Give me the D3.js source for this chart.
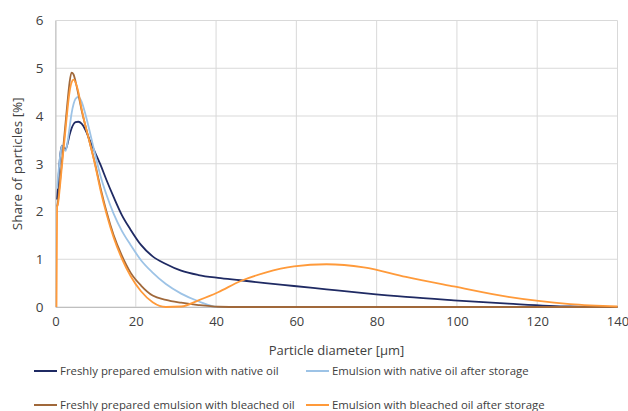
<!DOCTYPE html>
<html>
<head>
<meta charset="utf-8">
<script src="https://cdn.jsdelivr.net/npm/d3@7"></script>
<style>
  body { margin: 0; background: #fff; }
  svg text { font-family: "Open Sans", "Noto Sans", sans-serif; fill: #404040; }
</style>
</head>
<body>
<div id="chart"></div>
<script>
// particle diameter (µm)
const sizes = [0.25, 0.4, 0.6, 0.9, 1.2, 1.6, 2.0, 2.5, 3.0, 3.5, 4.0, 4.5, 5.0, 5.7, 6.5, 7.5, 8.6, 9.8, 11.2, 12.7,
  14.5, 16.5, 18.7, 21.3, 24.2, 27.5, 31.3, 35.6, 40.5, 46.0, 52.3, 59.4, 67.5, 76.8, 87.3, 99.2, 112.8, 128.2, 140];
// share of particles (%)
const nativeFresh = [null, 2.25, 2.5, 2.9, 3.2, 3.38, 3.34, 3.3, 3.42, 3.6, 3.74, 3.83, 3.87, 3.88, 3.84, 3.7, 3.48, 3.25,
  2.98, 2.66, 2.3, 1.93, 1.62, 1.3, 1.06, 0.9, 0.76, 0.67, 0.61, 0.56, 0.5, 0.44, 0.37, 0.29, 0.21, 0.14, 0.07, 0.01, 0];
const nativeStored = [null, 2.48, 2.7, 2.95, 3.2, 3.38, 3.32, 3.27, 3.45, 3.75, 4.05, 4.25, 4.36, 4.4, 4.3, 4.02, 3.65, 3.22,
  2.75, 2.35, 1.95, 1.6, 1.3, 0.98, 0.72, 0.48, 0.28, 0.12, 0, 0, 0, 0, 0, 0, 0, 0, 0, 0, 0];
const bleachedFresh = [null, 2.1, 2.2, 2.45, 2.7, 3.05, 3.4, 3.85, 4.3, 4.7, 4.91, 4.87, 4.72, 4.45, 4.12, 3.78, 3.42, 3.02,
  2.5, 2.0, 1.5, 1.08, 0.72, 0.45, 0.24, 0.15, 0.09, 0.04, 0.005, 0, 0, 0, 0, 0, 0, 0, 0, 0, 0];
const bleachedStored = [0, 2.1, 2.15, 2.35, 2.6, 2.95, 3.3, 3.72, 4.15, 4.5, 4.7, 4.76, 4.7, 4.5, 4.15, 3.78, 3.42, 3.0,
  2.45, 1.95, 1.45, 1.02, 0.65, 0.33, 0.1, 0, 0.01, 0.14, 0.31, 0.54, 0.72, 0.85, 0.895, 0.83, 0.63, 0.43, 0.21, 0.06, 0.01];

const seriesNames = ['Freshly prepared emulsion with native oil', 'Emulsion with native oil after storage',
  'Freshly prepared emulsion with bleached oil', 'Emulsion with bleached oil after storage'];
const seriesValues = [nativeFresh, nativeStored, bleachedFresh, bleachedStored];
const colors = ['#1f2a63', '#9dc3e6', '#a0683a', '#ff9a3a'];
const xTicks = [0, 20, 40, 60, 80, 100, 120, 140];
const yTicks = [0, 1, 2, 3, 4, 5, 6];

const width = 628, height = 411;
const margin = { top: 20.5, right: 10.5, bottom: 104, left: 55.5 };

const svg = d3.select('#chart').append('svg')
  .attr('width', width)
  .attr('height', height);

const x = d3.scaleLinear().domain([0, 140]).range([margin.left, width - margin.right]);
const y = d3.scaleLinear().domain([0, 6]).range([height - margin.bottom, margin.top]);

// grid -----------------------------------------------------------
svg.append('g')
  .selectAll('line')
  .data(yTicks)
  .join('line')
  .attr('x1', x(0)).attr('x2', x(140))
  .attr('y1', d => y(d)).attr('y2', d => y(d))
  .attr('stroke', '#d9d9d9');
svg.append('g')
  .selectAll('line')
  .data(xTicks)
  .join('line')
  .attr('x1', d => x(d)).attr('x2', d => x(d))
  .attr('y1', y(0)).attr('y2', y(6))
  .attr('stroke', '#d9d9d9');

// axes -----------------------------------------------------------
const xAxis = svg.append('g')
  .attr('transform', 'translate(0,' + y(0) + ')')
  .call(d3.axisBottom(x).tickValues(xTicks).tickSize(0).tickPadding(10));
xAxis.select('.domain').attr('stroke', '#bfbfbf');
xAxis.selectAll('text').attr('font-size', '13px').style('fill', '#404040');

const yAxis = svg.append('g')
  .attr('transform', 'translate(' + x(0) + ',0)')
  .call(d3.axisLeft(y).tickValues(yTicks).tickFormat(d3.format('d')).tickSize(0).tickPadding(12));
yAxis.select('.domain').attr('stroke', '#bfbfbf');
yAxis.selectAll('text').attr('font-size', '13.5px').style('fill', '#404040');

// lines ----------------------------------------------------------
const line = d3.line()
  .defined(d => d[1] !== null)
  .x(d => x(d[0]))
  .y(d => y(d[1]))
  .curve(d3.curveMonotoneX);

seriesValues.forEach((vals, i) => {
  svg.append('path')
    .datum(sizes.map((s, j) => [s, vals[j]]))
    .attr('fill', 'none')
    .attr('stroke', colors[i])
    .attr('stroke-width', 1.8)
    .attr('stroke-linejoin', 'round')
    .attr('d', line);
});

// titles ---------------------------------------------------------
svg.append('text')
  .attr('x', (x(0) + x(140)) / 2)
  .attr('y', 355)
  .attr('text-anchor', 'middle')
  .attr('font-size', '13px')
  .text('Particle diameter [µm]');

svg.append('text')
  .attr('transform', 'translate(22,' + y(3) + ') rotate(-90)')
  .attr('text-anchor', 'middle')
  .attr('font-size', '13.5px')
  .text('Share of particles [%]');

// legend ---------------------------------------------------------
const legendPos = [[34, 371], [306, 371], [34, 405], [306, 405]];
const legend = svg.append('g')
  .selectAll('g')
  .data(seriesNames)
  .join('g')
  .attr('transform', (d, i) => 'translate(' + legendPos[i][0] + ',' + legendPos[i][1] + ')');
legend.append('line')
  .attr('x1', 0).attr('x2', 23)
  .attr('stroke', (d, i) => colors[i])
  .attr('stroke-width', 2);
legend.append('text')
  .attr('x', 26)
  .attr('dy', '0.35em')
  .attr('font-size', '11.4px')
  .text(d => d);
</script>
</body>
</html>
